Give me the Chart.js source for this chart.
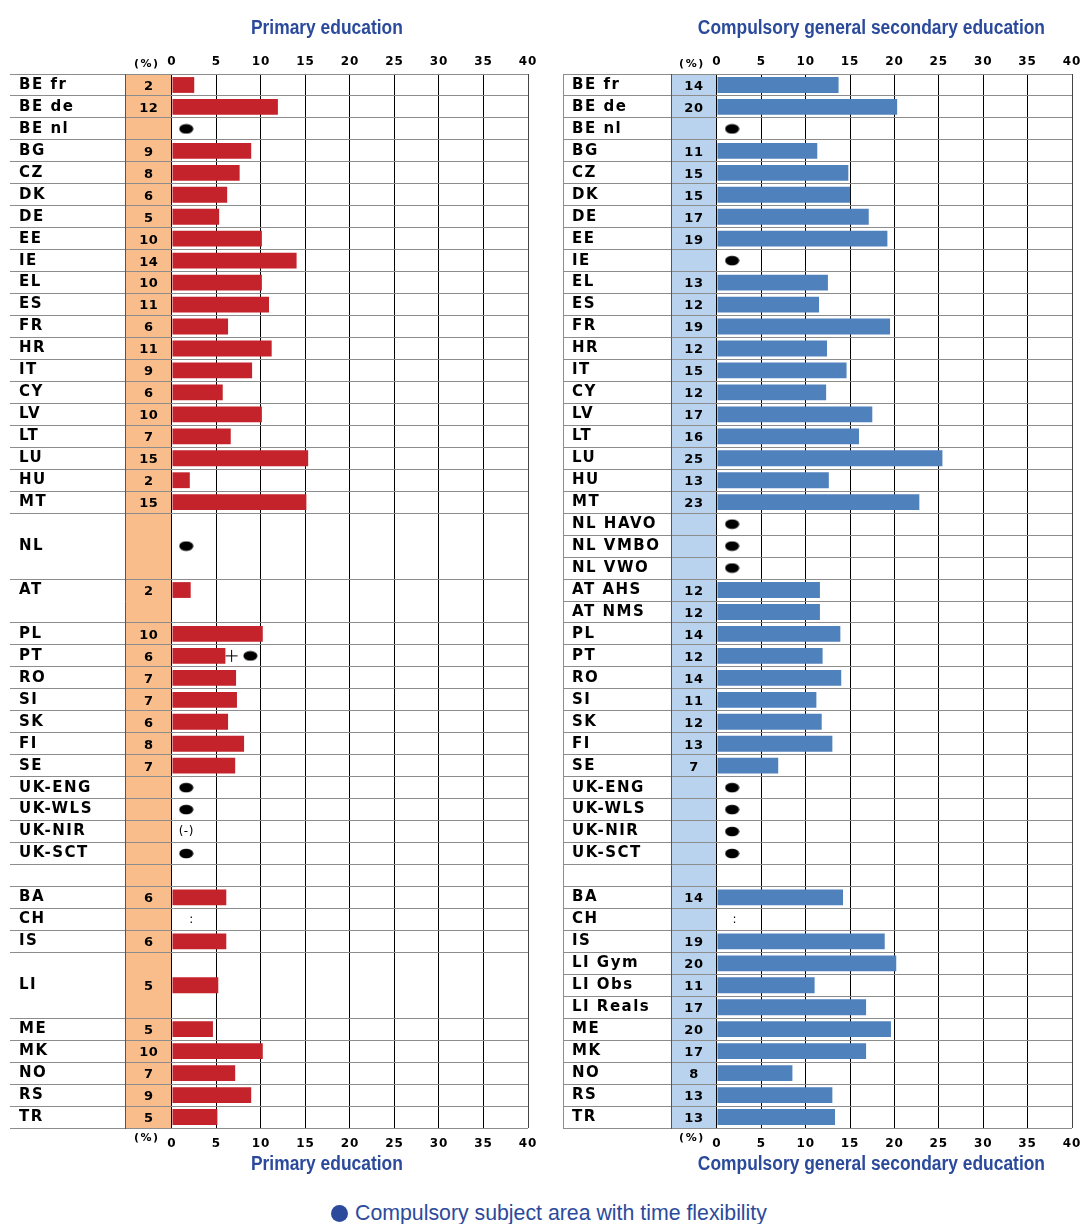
<!DOCTYPE html>
<html>
<head>
<meta charset="utf-8">
<script src="https://cdn.jsdelivr.net/npm/chart.js@4.4.1/dist/chart.umd.min.js"></script>
<style>
  body { margin: 0; background: #fff; }
  #page { position: relative; width: 1085px; height: 1224px; overflow: hidden; }
  canvas { position: absolute; top: 0; }
  #left { left: 0; }
  #right { left: 550px; }
  #legend { position: absolute; left: 331px; top: 1201px; font: 21.3px "Liberation Sans", Arial, sans-serif; color: #2b4a9b; white-space: nowrap; }
  #legend span { display: inline-block; width: 17px; height: 17px; border-radius: 50%; background: #2b4a9b; margin-right: 7px; vertical-align: -2px; }
</style>
</head>
<body>
<div id="page">
  <canvas id="left" width="545" height="1190"></canvas>
  <canvas id="right" width="535" height="1190"></canvas>
  <div id="legend"><span></span>Compulsory subject area with time flexibility</div>
</div>
<script>
const ticks = [0, 5, 10, 15, 20, 25, 30, 35, 40];

// Primary education (NL, AT and LI are merged cells over several rows)
const primaryRows = [
  "BE fr", "BE de", "BE nl", "BG", "CZ", "DK", "DE", "EE", "IE", "EL",
  "ES", "FR", "HR", "IT", "CY", "LV", "LT", "LU", "HU", "MT",
  "", "NL", "", "AT", "", "PL", "PT", "RO", "SI", "SK",
  "FI", "SE", "UK-ENG", "UK-WLS", "UK-NIR", "UK-SCT", "", "BA", "CH", "IS",
  "", "LI", "", "ME", "MK", "NO", "RS", "TR"
];
const primaryValues = [
  2.5, 11.9, null, 8.9, 7.6, 6.2, 5.3, 10.1, 14.0, 10.1,
  10.9, 6.3, 11.2, 9.0, 5.7, 10.1, 6.6, 15.3, 2.0, 15.1,
  null, null, null, 2.1, null, 10.2, 6.0, 7.2, 7.3, 6.3,
  8.1, 7.1, null, null, null, null, null, 6.1, null, 6.1,
  null, 5.2, null, 4.6, 10.2, 7.1, 8.9, 5.1
];
const primaryShown = [
  "2", "12", "", "9", "8", "6", "5", "10", "14", "10",
  "11", "6", "11", "9", "6", "10", "7", "15", "2", "15",
  "", "", "", "2", "", "10", "6", "7", "7", "6",
  "8", "7", "", "", "", "", "", "6", "", "6",
  "", "5", "", "5", "10", "7", "9", "5"
];
const primaryFlex = { "BE nl": 1.6, "NL": 1.6, "PT": 8.8, "UK-ENG": 1.6, "UK-WLS": 1.6, "UK-SCT": 1.6 };
const primaryPlus = { "PT": 6.7 };
const primaryNotes = { "UK-NIR": { text: "(-)", x: 1.6 }, "CH": { text: ":", x: 2.2 } };
const primaryJoined = [21, 22, 24, 41, 42];

// Compulsory general secondary education
const secondaryRows = [
  "BE fr", "BE de", "BE nl", "BG", "CZ", "DK", "DE", "EE", "IE", "EL",
  "ES", "FR", "HR", "IT", "CY", "LV", "LT", "LU", "HU", "MT",
  "NL HAVO", "NL VMBO", "NL VWO", "AT AHS", "AT NMS", "PL", "PT", "RO", "SI", "SK",
  "FI", "SE", "UK-ENG", "UK-WLS", "UK-NIR", "UK-SCT", "", "BA", "CH", "IS",
  "LI Gym", "LI Obs", "LI Reals", "ME", "MK", "NO", "RS", "TR"
];
const secondaryValues = [
  13.7, 20.3, null, 11.3, 14.8, 15.0, 17.1, 19.2, null, 12.5,
  11.5, 19.5, 12.4, 14.6, 12.3, 17.5, 16.0, 25.4, 12.6, 22.8,
  null, null, null, 11.6, 11.6, 13.9, 11.9, 14.0, 11.2, 11.8,
  13.0, 6.9, null, null, null, null, null, 14.2, null, 18.9,
  20.2, 11.0, 16.8, 19.6, 16.8, 8.5, 13.0, 13.3
];
const secondaryShown = [
  "14", "20", "", "11", "15", "15", "17", "19", "", "13",
  "12", "19", "12", "15", "12", "17", "16", "25", "13", "23",
  "", "", "", "12", "12", "14", "12", "14", "11", "12",
  "13", "7", "", "", "", "", "", "14", "", "19",
  "20", "11", "17", "20", "17", "8", "13", "13"
];
const secondaryFlex = { "BE nl": 1.7, "IE": 1.7, "NL HAVO": 1.7, "NL VMBO": 1.7, "NL VWO": 1.7, "UK-ENG": 1.7, "UK-WLS": 1.7, "UK-NIR": 1.7, "UK-SCT": 1.7 };
const secondaryPlus = {};
const secondaryNotes = { "CH": { text: ":", x: 2.0 } };
const secondaryJoined = [];

function ellipse() {
  const c = document.createElement("canvas");
  c.width = 15;
  c.height = 11;
  const g = c.getContext("2d");
  g.fillStyle = "#000";
  g.beginPath();
  g.ellipse(7.5, 5.5, 7, 4.8, 0, 0, Math.PI * 2);
  g.fill();
  return c;
}

function panel(id, o) {
  // tall line height keeps the numbers off the table without extra side padding
  const xAxis = (pos) => ({
    type: "linear",
    position: pos,
    min: o.xMin,
    max: 40,
    afterBuildTicks: (s) => { s.ticks = ticks.map((v) => ({ value: v })); },
    afterFit: (s) => { s.height = 22; },
    ticks: {
      padding: 0,
      font: { family: "DejaVu Sans", weight: "bold", size: 12, lineHeight: pos === "top" ? "24px" : "32px" },
      color: "#000",
      maxRotation: 0,
      autoSkip: false,
    },
    grid: pos === "top"
      ? { drawTicks: false, lineWidth: 1, color: (c) => (c.tick && c.tick.value === 40 ? "#444" : "#000") }
      : { display: false, drawTicks: false },
    border: { display: false },
  });

  return new Chart(document.getElementById(id), {
    type: "bar",
    data: {
      labels: o.rows,
      datasets: [
        {
          data: o.values,
          backgroundColor: o.barColor,
          barPercentage: 0.72,
          categoryPercentage: 1,
          xAxisID: "x",
          yAxisID: "y",
          order: 2,
        },
        {
          type: "line",
          indexAxis: "y",
          showLine: false,
          data: o.rows.map((r) => (r in o.flex ? o.flex[r] : null)),
          pointStyle: ellipse(),
          pointRadius: 6,
          xAxisID: "x",
          yAxisID: "y",
          order: 1,
        },
        {
          type: "line",
          indexAxis: "y",
          showLine: false,
          data: o.rows.map((r) => (r in o.plus ? o.plus[r] : null)),
          pointStyle: "cross",
          pointRadius: 6,
          borderColor: "#000",
          borderWidth: 1,
          xAxisID: "x",
          yAxisID: "y",
          order: 1,
        },
      ],
    },
    options: {
      indexAxis: "y",
      responsive: false,
      animation: false,
      layout: { padding: { top: 52, bottom: 40, left: o.padLeft, right: o.padRight } },
      plugins: { legend: { display: false }, tooltip: { enabled: false } },
      scales: {
        x: xAxis("top"),
        x2: xAxis("bottom"),
        y: {
          type: "category",
          position: "left",
          offset: true,
          afterFit: (s) => { s.width = o.axisWidth; },
          ticks: {
            autoSkip: false,
            crossAlign: "far",
            padding: 0,
            z: 1,
            color: "#000",
            font: { family: "DejaVu Sans", weight: "bold", size: 15 },
          },
          grid: {
            offset: true,
            z: 1,
            tickLength: o.tickLength,
            lineWidth: 1,
            color: (c) => (c.index !== undefined && o.joined.includes(c.index) ? "rgba(0,0,0,0)" : "#8c8c8c"),
          },
          border: { color: "#555", z: 1 },
        },
      },
    },
    plugins: [
      {
        id: "table",
        beforeDraw(chart) {
          const { ctx, chartArea: a } = chart;
          const x = chart.scales.x;
          const y = chart.scales.y;
          ctx.letterSpacing = "1px";
          ctx.save();
          const zero = x.getPixelForValue(0);
          ctx.fillStyle = o.band;
          ctx.fillRect(a.left, a.top, zero - a.left, a.bottom - a.top);

          if (o.frame) {
            ctx.strokeStyle = "#8c8c8c";
            ctx.lineWidth = 1;
            ctx.beginPath();
            ctx.moveTo(a.left - o.tickLength + 0.5, a.top);
            ctx.lineTo(a.left - o.tickLength + 0.5, a.bottom);
            ctx.stroke();
          }

          const mid = x.getPixelForValue(-2.6);
          ctx.fillStyle = "#000";
          ctx.textAlign = "center";
          ctx.textBaseline = "middle";
          ctx.font = "bold 13px 'DejaVu Sans'";
          ctx.letterSpacing = "0.5px";
          o.shown.forEach((t, i) => {
            if (t) ctx.fillText(t, mid, y.getPixelForValue(i) + 1.5);
          });

          ctx.font = "12px 'DejaVu Sans'";
          for (const [row, n] of Object.entries(o.notes)) {
            ctx.fillText(n.text, x.getPixelForValue(n.x), y.getPixelForValue(o.rows.indexOf(row)));
          }

          ctx.font = "bold 11px 'DejaVu Sans'";
          ctx.letterSpacing = "1.5px";
          ctx.fillText("(%)", mid - 2, a.top - 10);
          ctx.fillText("(%)", mid - 2, a.bottom + 10);

          ctx.letterSpacing = "0px";
          ctx.font = "bold 20px 'Liberation Sans'";
          ctx.fillStyle = "#2b4a9b";
          const tx = x.getPixelForValue(17.4);
          for (const ty of [a.top - 46, a.bottom + 36]) {
            ctx.save();
            ctx.translate(tx, ty);
            ctx.scale(0.87, 1);
            ctx.fillText(o.title, 0, 0);
            ctx.restore();
          }
          ctx.restore();
        },
        afterDatasetsDraw(chart) {
          // row labels are drawn after the datasets, a little wider spaced
          chart.ctx.letterSpacing = "1.5px";
        },
      },
    ],
  });
}

const primaryChart = panel("left", {
  title: "Primary education",
  rows: primaryRows,
  values: primaryValues,
  shown: primaryShown,
  flex: primaryFlex,
  plus: primaryPlus,
  notes: primaryNotes,
  joined: primaryJoined,
  barColor: "#c4232b",
  band: "#f9bd8b",
  xMin: -5.28,
  padLeft: 19,
  padRight: 17,
  axisWidth: 106,
  tickLength: 115,
  frame: false,
});

const secondaryChart = panel("right", {
  title: "Compulsory general secondary education",
  rows: secondaryRows,
  values: secondaryValues,
  shown: secondaryShown,
  flex: secondaryFlex,
  plus: secondaryPlus,
  notes: secondaryNotes,
  joined: secondaryJoined,
  barColor: "#4f81bd",
  band: "#b9d3ee",
  xMin: -5.18,
  padLeft: 22,
  padRight: 13,
  axisWidth: 99,
  tickLength: 108,
  frame: true,
});
</script>
</body>
</html>
